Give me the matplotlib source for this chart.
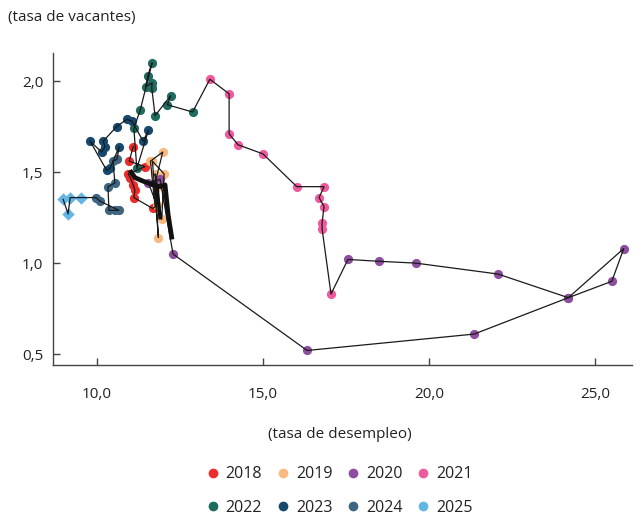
import matplotlib.pyplot as plt
from matplotlib.lines import Line2D
from matplotlib.ticker import FuncFormatter

plt.rcParams["font.family"] = ["Open Sans", "DejaVu Sans"]

# desempleo (x) y vacantes (y) por año, en orden mensual
u_2018 = [11.09, 10.97, 11.45, 10.94, 11.00, 11.09, 11.14, 11.11, 11.68, 11.75]
v_2018 = [1.64, 1.56, 1.53, 1.49, 1.47, 1.43, 1.40, 1.36, 1.30, 1.31]

u_2019 = [11.61, 11.98, 11.75, 11.85, 11.67, 12.02, 11.95, 11.75, 11.82, 11.80]
v_2019 = [1.56, 1.61, 1.44, 1.14, 1.56, 1.49, 1.24, 1.49, 1.42, 1.32]

u_2020 = [11.55, 11.90, 12.29, 16.33, 21.36, 24.20, 25.87, 25.51, 24.20, 22.08, 19.60, 18.49, 17.56]
v_2020 = [1.44, 1.46, 1.05, 0.52, 0.61, 0.81, 1.08, 0.90, 0.81, 0.94, 1.00, 1.01, 1.02]

u_2021 = [17.05, 16.78, 16.78, 16.84, 16.69, 16.84, 16.02, 15.00, 14.25, 13.98, 13.98, 13.40]
v_2021 = [0.83, 1.19, 1.22, 1.31, 1.36, 1.42, 1.42, 1.60, 1.65, 1.71, 1.93, 2.01]

u_2022 = [12.88, 12.12, 12.22, 11.75, 11.65, 11.66, 11.47, 11.53, 11.66, 11.30, 11.11, 11.20]
v_2022 = [1.83, 1.87, 1.92, 1.81, 1.96, 1.99, 1.97, 2.03, 2.10, 1.84, 1.74, 1.52]

u_2023 = [11.55, 11.39, 11.05, 10.90, 10.59, 10.19, 10.24, 10.14, 9.79, 10.29, 10.39, 10.67]
v_2023 = [1.73, 1.67, 1.78, 1.79, 1.75, 1.67, 1.64, 1.61, 1.67, 1.51, 1.52, 1.64]

u_2024 = [10.60, 10.48, 10.54, 10.33, 10.36, 10.54, 10.66, 10.09, 9.97]
v_2024 = [1.57, 1.56, 1.44, 1.42, 1.29, 1.29, 1.29, 1.34, 1.36]

u_2025 = [9.52, 9.19, 9.13, 8.98]
v_2025 = [1.36, 1.36, 1.27, 1.35]

# trayectoria gruesa
u_tray = [10.99, 11.14, 11.39, 11.69, 11.90, 12.05, 12.14, 12.26]
v_tray = [1.51, 1.47, 1.45, 1.43, 1.42, 1.43, 1.27, 1.13]
u_tray2 = [11.81, 11.90]
v_tray2 = [1.42, 1.24]

years = ["2018", "2019", "2020", "2021", "2022", "2023", "2024", "2025"]
series_u = [u_2018, u_2019, u_2020, u_2021, u_2022, u_2023, u_2024, u_2025]
series_v = [v_2018, v_2019, v_2020, v_2021, v_2022, v_2023, v_2024, v_2025]
colors = ["#ED2B2B", "#F9B97F", "#8E4E9F", "#EE5A9D",
          "#1F6B5E", "#17496F", "#3E6581", "#63B5E5"]
markers = ["o"] * 7 + ["D"]

fig = plt.figure(figsize=(6.42, 5.20), dpi=100)
ax = fig.add_axes([0.0826, 0.298, 0.9014, 0.6])

# puntos por año
for u, v, c, m in zip(series_u, series_v, colors, markers):
    ax.scatter(u, v, s=44 if m == "o" else 40, color=c, marker=m,
               linewidths=0, zorder=2)

# línea que une todos los meses
all_u = sum(series_u, [])
all_v = sum(series_v, [])
ax.plot(all_u, all_v, color="#1a1a1a", lw=0.9, zorder=3)

ax.plot(u_tray, v_tray, color="#111111", lw=3.4, solid_capstyle="butt", zorder=4)
ax.plot(u_tray2, v_tray2, color="#111111", lw=2.4, solid_capstyle="butt", zorder=4)

ax.set_xlim(8.675, 26.11)
ax.set_ylim(0.44, 2.154)
ax.set_xticks([10, 15, 20, 25])
ax.set_yticks([0.5, 1.0, 1.5, 2.0])
fmt = FuncFormatter(lambda val, pos: f"{val:.1f}".replace(".", ","))
ax.xaxis.set_major_formatter(fmt)
ax.yaxis.set_major_formatter(fmt)

for side in ["top", "right"]:
    ax.spines[side].set_visible(False)
for side in ["left", "bottom"]:
    ax.spines[side].set_color("#444444")
    ax.spines[side].set_linewidth(1.0)

ax.tick_params(axis="both", direction="in", length=5, width=1,
               color="#444444", labelsize=11, labelcolor="#222222")
ax.tick_params(axis="x", pad=16)
ax.tick_params(axis="y", pad=7)

fig.text(0.012, 0.967, "(tasa de vacantes)", fontsize=11,
         color="#222222", ha="left", va="center")
fig.text(0.53, 0.165, "(tasa de desempleo)", fontsize=11,
         color="#222222", ha="center", va="center")

# la leyenda se llena por columnas: reordenar para leer por filas
order = [0, 4, 1, 5, 2, 6, 3, 7]
handles = [Line2D([], [], marker="o", ls="none", markersize=7,
                  markerfacecolor=colors[i], markeredgewidth=0) for i in order]
labels = [years[i] for i in order]
fig.legend(handles, labels, loc="center", bbox_to_anchor=(0.53, 0.056),
           ncol=4, frameon=False, fontsize=11.5, handlelength=0.6,
           handletextpad=0.5, columnspacing=1.0, labelspacing=1.1,
           labelcolor="#222222")

fig.savefig("out.png", dpi=100)
